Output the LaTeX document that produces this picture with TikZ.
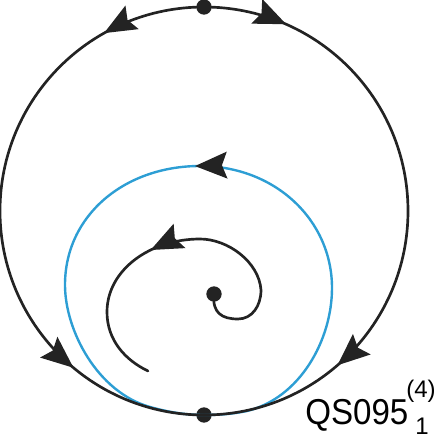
\documentclass[tikz,border=0pt]{standalone}
\usepackage{fontspec}
\setmainfont{Liberation Sans}
\usepackage{tikz}
\usetikzlibrary{arrows.meta}
\usetikzlibrary{decorations.markings}
\definecolor{OrbitInk}{RGB}{35,35,35}
\definecolor{CycleBlue}{RGB}{45,158,212}
\tikzset{
	>={Stealth[length=24pt, width=20pt, inset=3.8pt]},
	orbit/.style={OrbitInk, line width=2pt},
	cycleorb/.style={CycleBlue, line width=1.8pt},
	critpt/.style={circle, fill=OrbitInk, inner sep=0pt, minimum size=11.5pt},
	flowmark/.style={postaction={decorate, decoration={markings,
				mark=at position #1 with {\arrow[OrbitInk]{>}}}}},
	qsname/.style={inner sep=0pt, font=\fontsize{27}{30}\selectfont},
	qsindex/.style={inner sep=0pt, font=\fontsize{18}{20}\selectfont},
}

\begin{document}
\begin{tikzpicture}[x=0.75pt, y=0.75pt, line cap=round, line join=round]
	
	\def\Rbig{204}
	\useasboundingbox (0,0) rectangle (438,440);
	
	% Critical points
	\node[critpt] (ntop) at (204,433) {};
	\node[critpt] (nbot) at (204,25) {};
	\node[critpt] (nfoc) at (214,146) {};
	
	% Blue loop through the lower point (drawn first, black goes over it)
	\draw[cycleorb, flowmark=3.75pt]
	(200,274) .. controls (125,274) and (65,225) .. (65,155)
	.. controls (65,110) and (97,48) .. (150,33)
	.. controls (168,28) and (185,25) .. (nbot.center)
	.. controls (220,25) and (232,26) .. (247,29)
	.. controls (300,42) and (332,100) .. (332,152)
	.. controls (332,220) and (275,274) .. (200,274);
	
	% --- big circle: two halves from the top point down to the bottom one ---
	\draw[orbit, flowmark=0.163, flowmark=0.779]
	(ntop.center) arc[start angle=90, end angle=270, radius=\Rbig];
	\draw[orbit, flowmark=0.132, flowmark=0.773]
	(ntop.center) arc[start angle=90, end angle=-90, radius=\Rbig];
	
	% Spiral leaving the focus
	\draw[orbit, flowmark=0.585]
	(nfoc.center) .. controls (212,127) and (222,121) .. (238,121)
	.. controls (252,121) and (261,134) .. (261,150)
	.. controls (259,178) and (228,201) .. (200,201)
	.. controls (150,201) and (107,170) .. (107,128)
	.. controls (107,100) and (125,80) .. (148,69);
	
	% Name of the portrait
	\node[qsname, anchor=base west] (qs) at (305,15.5) {\scalebox{0.92}[1]{QS095}};
	\node[qsindex, anchor=base west] (qsup) at (406,42) {(4)};
	\node[qsindex, anchor=base west] (qsub) at (415,5.5) {1};
	
\end{tikzpicture}
\end{document}
